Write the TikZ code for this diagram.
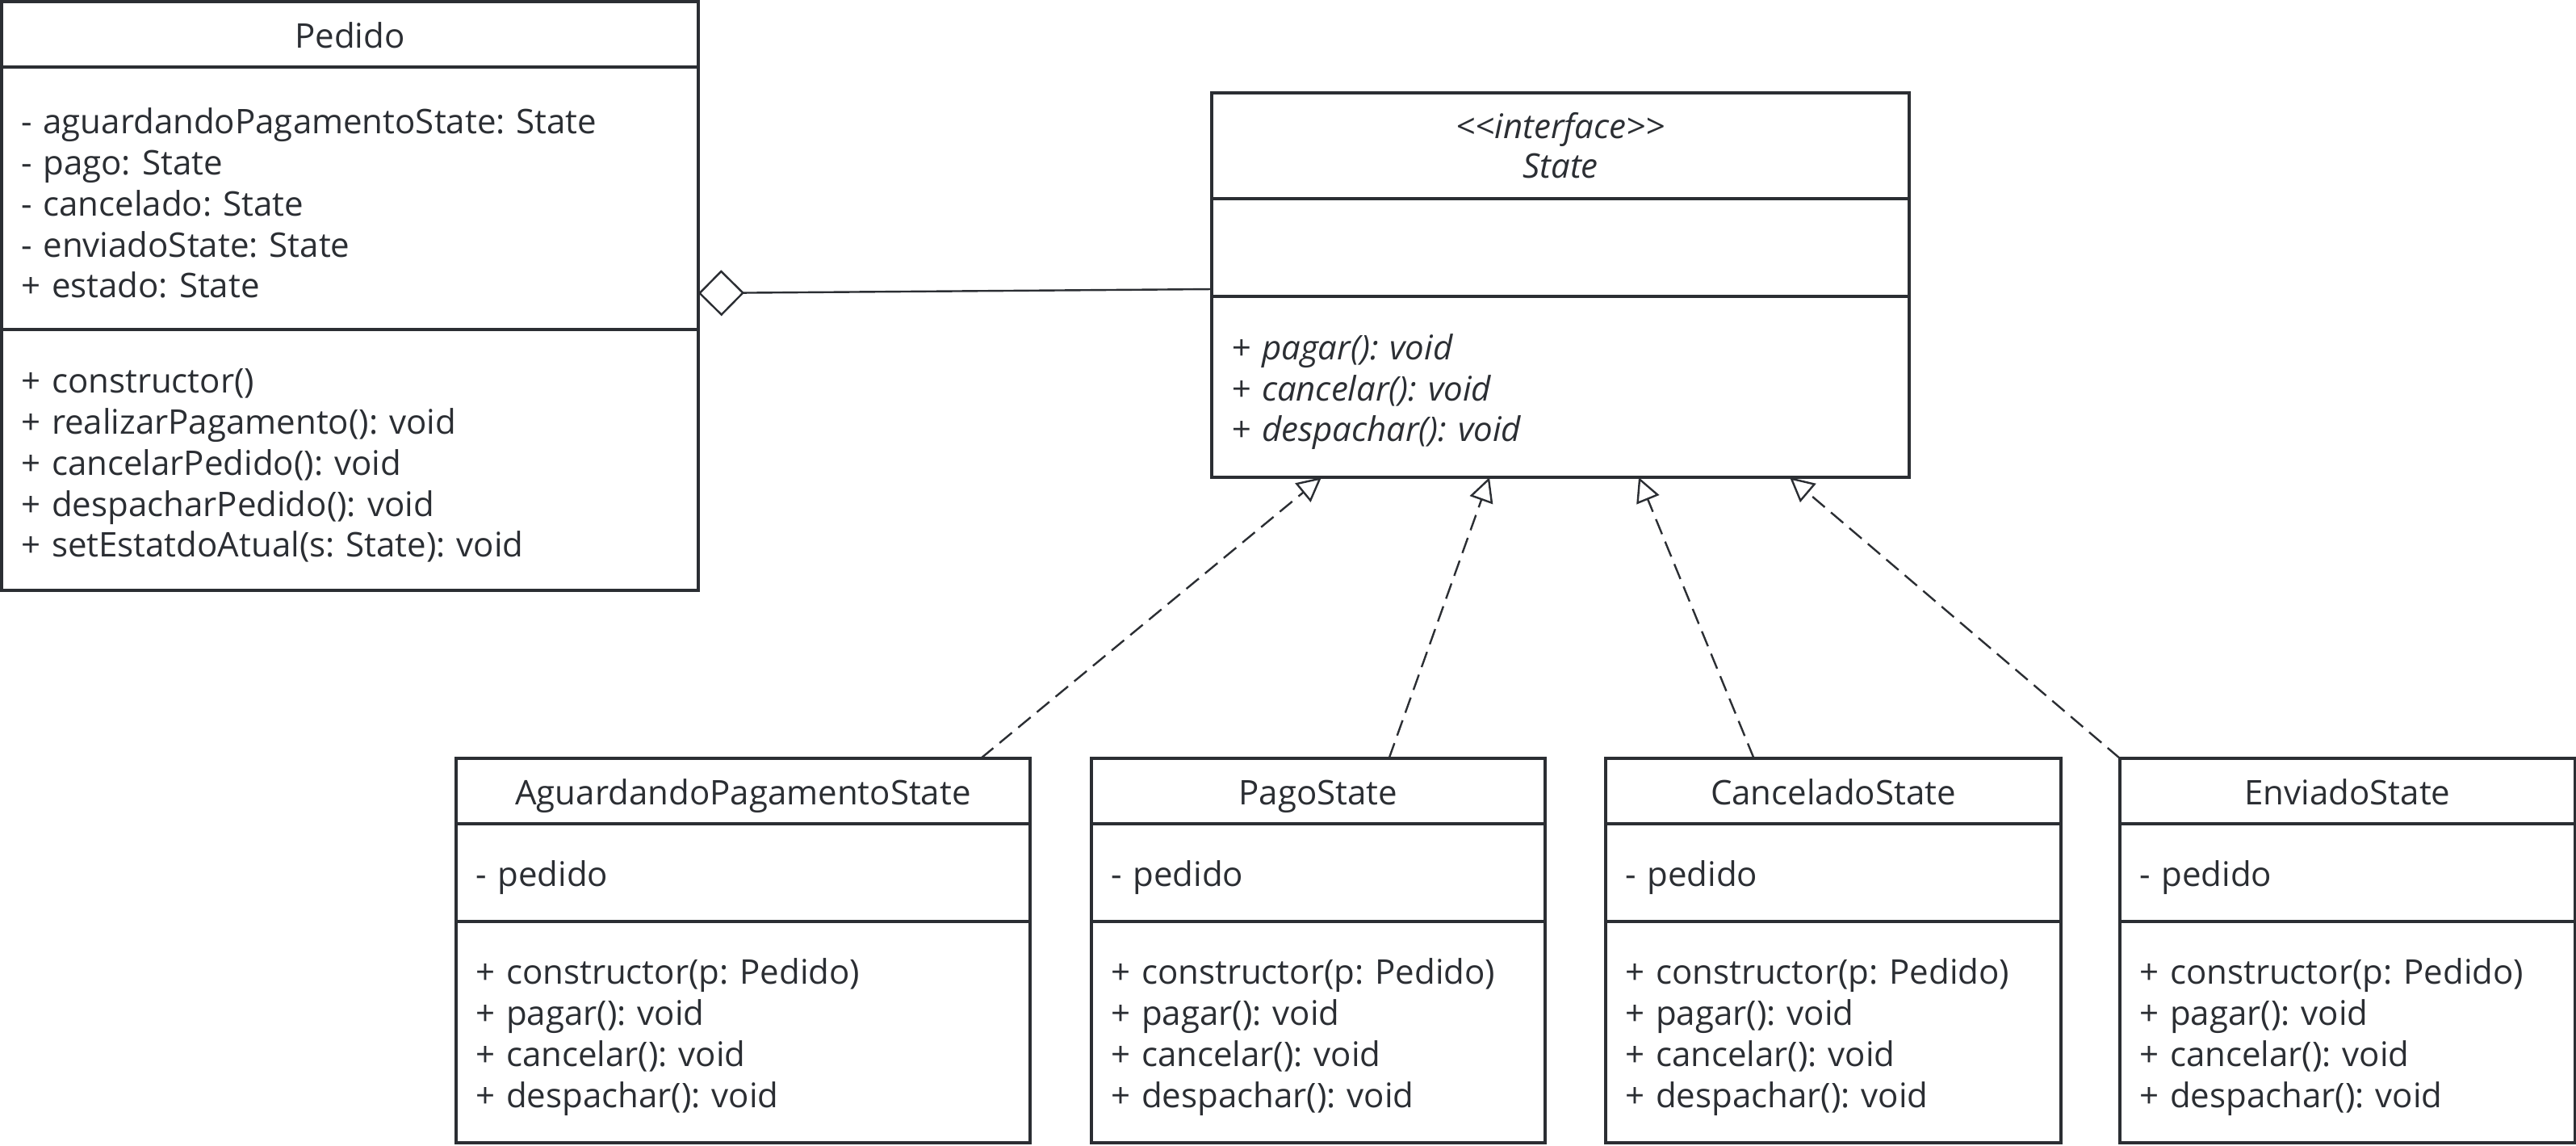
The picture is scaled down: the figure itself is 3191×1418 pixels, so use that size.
\documentclass[tikz,border=0pt]{standalone}
\usepackage{fontspec}
\setmainfont{Open Sans}
\usetikzlibrary{positioning,arrows.meta}
\definecolor{tinta}{RGB}{43,46,51}
\frenchspacing
\tikzset{
  caixa/.style={draw=tinta, line width=0.9pt, text=tinta, inner xsep=6pt, inner ysep=0pt, outer sep=0pt,
    font=\fontsize{10.5pt}{12.7pt}\selectfont},
  titulo/.style={caixa, align=center, text height=9.3pt, text depth=0.9pt},
  lista/.style={caixa, align=left, execute at begin node={\rule{0pt}{11pt}}},
  realiza/.style={draw=tinta, line width=0.6pt, dash pattern=on 5pt off 2.5pt,
    -{Triangle[open, length=7.5pt, width=7.5pt, fill=white]}},
  agrega/.style={draw=tinta, line width=0.6pt,
    {Diamond[open, length=14.25pt, width=14.25pt, fill=white]}-}
}
\begin{document}
\begin{tikzpicture}[x=0.25pt, y=-0.25pt]
        \useasboundingbox (0,0) rectangle (3191,1418);

        % Classe Pedido
        \node[titulo, text width=203.75pt, minimum height=20.25pt, anchor=north west] (pedT) at (2,2) {Pedido};
        \node[lista, text width=203.75pt, minimum height=81.25pt, below=0pt of pedT] (pedA)
            {- aguardandoPagamentoState: State\\- pago: State\\- cancelado: State\\- enviadoState: State\\+ estado: State};
        \node[lista, text width=203.75pt, minimum height=80.75pt, below=0pt of pedA] (pedM)
            {+ constructor()\\+ realizarPagamento(): void\\+ cancelarPedido(): void\\+ despacharPedido(): void\\+ setEstatdoAtual(s: State): void};

        % Interface State
        \node[caixa, align=center, text width=204pt, minimum height=32.75pt, anchor=north west, font=\fontsize{10.5pt}{12.2pt}\selectfont\itshape] (stT) at (1501,115)
            {<\kern0pt<interface>\kern0pt>\\State};
        \node[lista, text width=204pt, minimum height=30.25pt, below=0pt of stT] (stA) {};
        \node[lista, text width=204pt, minimum height=56pt, below=0pt of stA, font=\fontsize{10.5pt}{12.7pt}\selectfont\itshape] (stM)
            {+ pagar(): void\\+ cancelar(): void\\+ despachar(): void};

        % Estados concretos
        \node[titulo, text width=165.75pt, minimum height=20.25pt, anchor=north west] (agT) at (565,939) {AguardandoPagamentoState};
        \node[lista, text width=165.75pt, minimum height=30.25pt, below=0pt of agT] (agA) {- pedido};
        \node[lista, text width=165.75pt, minimum height=68.5pt, below=0pt of agA] (agM)
            {+ constructor(p: Pedido)\\+ pagar(): void\\+ cancelar(): void\\+ despachar(): void};

        \node[titulo, text width=128.5pt, minimum height=20.25pt, anchor=north west] (pagT) at (1352,939) {PagoState};
        \node[lista, text width=128.5pt, minimum height=30.25pt, below=0pt of pagT] (pagA) {- pedido};
        \node[lista, text width=128.5pt, minimum height=68.5pt, below=0pt of pagA] (pagM)
            {+ constructor(p: Pedido)\\+ pagar(): void\\+ cancelar(): void\\+ despachar(): void};

        \node[titulo, text width=129pt, minimum height=20.25pt, anchor=north west] (canT) at (1989,939) {CanceladoState};
        \node[lista, text width=129pt, minimum height=30.25pt, below=0pt of canT] (canA) {- pedido};
        \node[lista, text width=129pt, minimum height=68.5pt, below=0pt of canA] (canM)
            {+ constructor(p: Pedido)\\+ pagar(): void\\+ cancelar(): void\\+ despachar(): void};

        \node[titulo, text width=129pt, minimum height=20.25pt, anchor=north west] (envT) at (2626,939) {EnviadoState};
        \node[lista, text width=129pt, minimum height=30.25pt, below=0pt of envT] (envA) {- pedido};
        \node[lista, text width=129pt, minimum height=68.5pt, below=0pt of envA] (envM)
            {+ constructor(p: Pedido)\\+ pagar(): void\\+ cancelar(): void\\+ despachar(): void};

        % Agregacao Pedido -- State
        \draw[agrega] ([yshift=11.25pt]pedA.south east) -- ([yshift=2.25pt]stA.south west);

        % Realizacoes
        \draw[realiza] ([xshift=-15.25pt]agT.north east) -- ([xshift=-74pt]stM.south);
        \draw[realiza] ([xshift=21.9pt]pagT.north) -- ([xshift=-22pt]stM.south);
        \draw[realiza] ([xshift=-24.6pt]canT.north) -- ([xshift=24.25pt]stM.south);
        \draw[realiza] (envT.north west) -- ([xshift=71pt]stM.south);
    \end{tikzpicture}
\end{document}
